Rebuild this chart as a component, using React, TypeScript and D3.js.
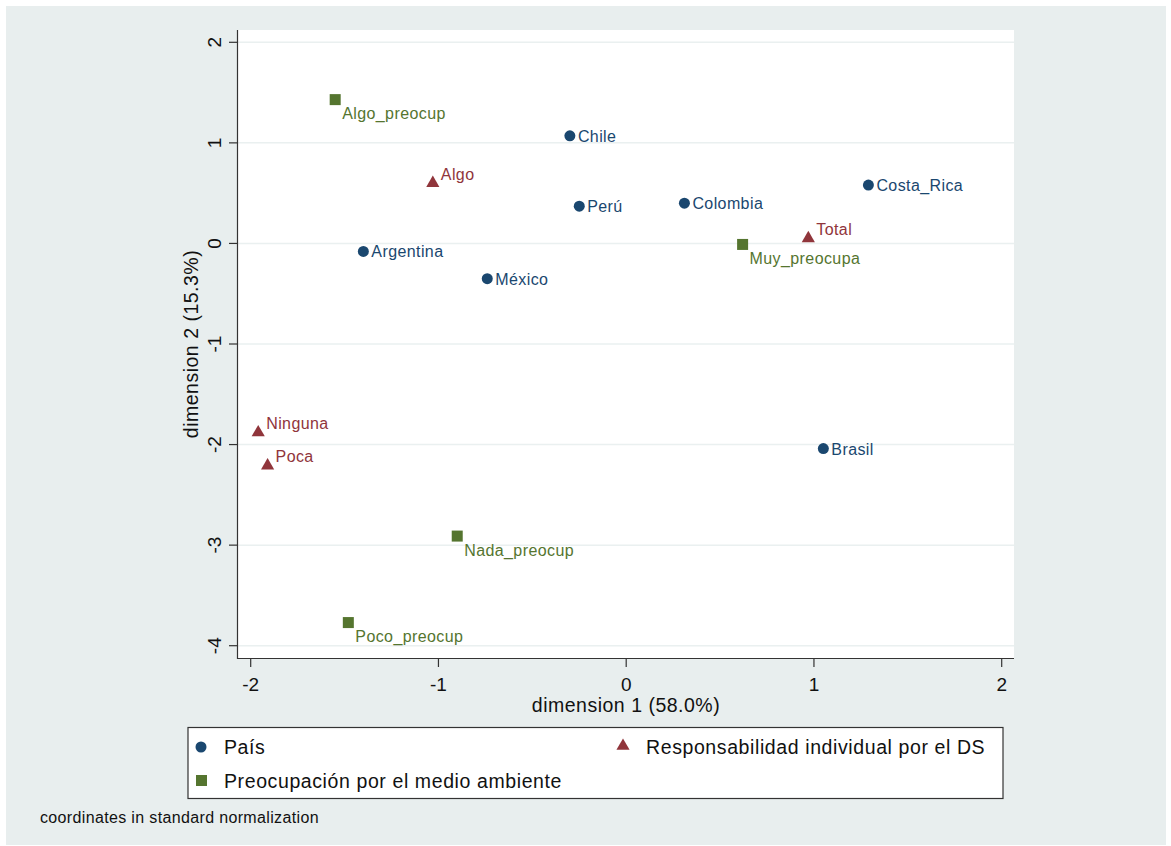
import React from "react";
import * as d3 from "d3";

const paisNames = ["Chile", "Perú", "Colombia", "Costa_Rica", "Argentina", "México", "Brasil"];
const paisX = [-0.30, -0.25, 0.31, 1.29, -1.40, -0.74, 1.05];
const paisY = [1.07, 0.37, 0.40, 0.58, -0.08, -0.35, -2.04];

const respNames = ["Algo", "Total", "Ninguna", "Poca"];
const respX = [-1.03, 0.97, -1.96, -1.91];
const respY = [0.60, 0.05, -1.88, -2.21];

const preoNames = ["Algo_preocup", "Muy_preocupa", "Nada_preocup", "Poco_preocup"];
const preoX = [-1.55, 0.62, -0.90, -1.48];
const preoY = [1.43, -0.01, -2.91, -3.77];

const xTicks = [-2, -1, 0, 1, 2];
const yTicks = [2, 1, 0, -1, -2, -3, -4];

const BLUE = "#1a476f";
const RED = "#90353b";
const GREEN = "#55752f";
const BG = "#e8eeee";
const GRID = "#eaf0f0";
const FONT = "'Liberation Sans', Arial, Helvetica, sans-serif";

export default function App() {
  const W = 1171, H = 846;
  const px0 = 238, px1 = 1014, py0 = 30, py1 = 659;
  const x = d3.scaleLinear().domain([-2, 2]).range([250.7, 1001.7]);
  const y = d3.scaleLinear().domain([2, -4]).range([42.3, 645.7]);
  const tri = d3.symbol().type(d3.symbolTriangle).size(75)();

  return (
    <svg width={W} height={H} style={{ position: "absolute", left: 0, top: 0 }} fontFamily={FONT}>
      <rect x={0} y={0} width={W} height={H} fill="#ffffff" />
      <rect x={6} y={6} width={1160} height={839} fill={BG} />
      <rect x={px0} y={py0} width={px1 - px0} height={py1 - py0} fill="#ffffff" />
      {yTicks.map((t) => (
        <line key={"g" + t} x1={px0} x2={px1} y1={y(t)} y2={y(t)} stroke={GRID} strokeWidth={1.5} />
      ))}
      {/* axes */}
      <line x1={px0 - 0.5} x2={px0 - 0.5} y1={py0} y2={py1} stroke="#333" strokeWidth={1.2} />
      <line x1={px0} x2={px1} y1={py1 - 0.5} y2={py1 - 0.5} stroke="#333" strokeWidth={1.2} />
      {yTicks.map((t) => (
        <g key={"yt" + t}>
          <line x1={px0 - 9} x2={px0} y1={y(t)} y2={y(t)} stroke="#333" strokeWidth={1.2} />
          <text transform={`translate(${px0 - 17},${y(t)}) rotate(-90)`} textAnchor="middle" fontSize={19} fill="#111">
            {t}
          </text>
        </g>
      ))}
      {xTicks.map((t) => (
        <g key={"xt" + t}>
          <line x1={x(t)} x2={x(t)} y1={py1} y2={py1 + 8} stroke="#333" strokeWidth={1.2} />
          <text x={x(t)} y={py1 + 32} textAnchor="middle" fontSize={19} fill="#111">
            {t}
          </text>
        </g>
      ))}
      <text x={626} y={711.5} textAnchor="middle" fontSize={19.5} letterSpacing={0.5} fill="#111">dimension 1 (58.0%)</text>
      <text transform={`translate(198,344) rotate(-90)`} textAnchor="middle" fontSize={19.5} letterSpacing={0.5} fill="#111">dimension 2 (15.3%)</text>

      {/* País */}
      {paisNames.map((n, i) => (
        <g key={n}>
          <circle cx={x(paisX[i])} cy={y(paisY[i])} r={5.5} fill={BLUE} />
          <text x={x(paisX[i]) + 8} y={y(paisY[i]) + 6} fontSize={16} letterSpacing={0.4} fill={BLUE}>{n}</text>
        </g>
      ))}
      {/* Responsabilidad */}
      {respNames.map((n, i) => (
        <g key={n}>
          <path d={tri!} transform={`translate(${x(respX[i])},${y(respY[i])})`} fill={RED} />
          <text x={x(respX[i]) + 8} y={y(respY[i]) - 3.5} fontSize={16} letterSpacing={0.4} fill={RED}>{n}</text>
        </g>
      ))}
      {/* Preocupación */}
      {preoNames.map((n, i) => (
        <g key={n}>
          <rect x={x(preoX[i]) - 5.5} y={y(preoY[i]) - 5.5} width={11} height={11} fill={GREEN} />
          <text x={x(preoX[i]) + 7} y={y(preoY[i]) + 19.5} fontSize={16} letterSpacing={0.4} fill={GREEN}>{n}</text>
        </g>
      ))}

      {/* legend */}
      <rect x={188} y={727.5} width={815} height={71} fill="#ffffff" stroke="#333" strokeWidth={1.2} />
      <circle cx={201} cy={747} r={5.5} fill={BLUE} />
      <text x={224} y={754} fontSize={19.5} letterSpacing={0.6} fill="#111">País</text>
      <path d={tri!} transform="translate(623,746)" fill={RED} />
      <text x={646} y={754} fontSize={19.5} letterSpacing={0.6} fill="#111">Responsabilidad individual por el DS</text>
      <rect x={196} y={775} width={11} height={11} fill={GREEN} />
      <text x={224} y={788} fontSize={19.5} letterSpacing={0.6} fill="#111">Preocupación por el medio ambiente</text>

      <text x={40} y={823} fontSize={16} letterSpacing={0.35} fill="#111">coordinates in standard normalization</text>
    </svg>
  );
}
